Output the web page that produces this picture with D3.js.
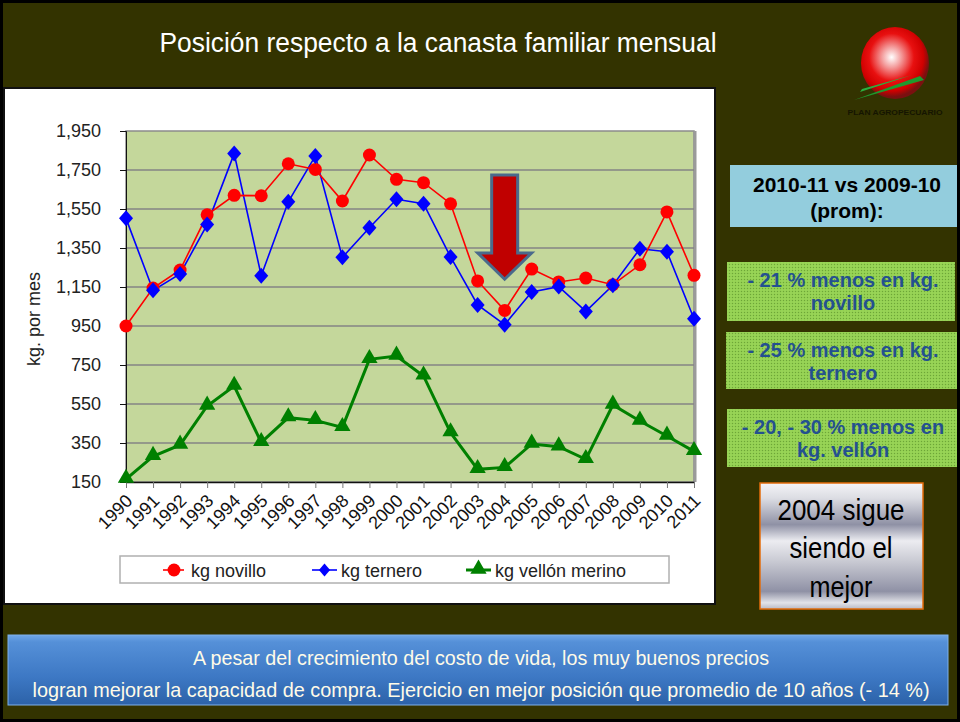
<!DOCTYPE html>
<html>
<head>
<meta charset="utf-8">
<script src="https://cdn.jsdelivr.net/npm/d3@7"></script>
<style>
  body { margin: 0; background: #333300; }
  svg { display: block; font-family: "Liberation Sans", Arial, sans-serif; }
  .narrow { font-family: "Liberation Sans Narrow", "Arial Narrow", "Liberation Sans", sans-serif; }
</style>
</head>
<body>
<div id="chart"></div>
<script>
// Chart values
const years = ["1990","1991","1992","1993","1994","1995","1996","1997","1998","1999","2000",
  "2001","2002","2003","2004","2005","2006","2007","2008","2009","2010","2011"];
const novillo = [950,1145,1237,1520,1620,1618,1782,1753,1591,1827,1702,
  1685,1577,1181,1030,1242,1176,1196,1162,1264,1535,1210];
const ternero = [1502,1133,1217,1470,1834,1208,1587,1822,1302,1454,1600,
  1577,1304,1058,957,1124,1152,1025,1159,1346,1331,987];
const vellon = [165,282,340,540,642,353,480,466,430,779,796,
  694,403,215,225,345,331,266,545,463,386,307];
const yTicks = [150,350,550,750,950,1150,1350,1550,1750,1950];
const seriesNames = ["kg novillo","kg ternero","kg vellón merino"];

const W = 960, H = 722;
const svg = d3.select("#chart").append("svg").attr("width", W).attr("height", H);
const defs = svg.append("defs");

// Slide background
svg.append("rect").attr("width", W).attr("height", H).attr("fill", "#333300");

// Title
svg.append("text").attr("class", "narrow")
  .attr("x", 438).attr("y", 52)
  .attr("text-anchor", "middle")
  .attr("fill", "#fff")
  .attr("font-size", 27)
  .attr("textLength", 557).attr("lengthAdjust", "spacingAndGlyphs")
  .text("Posición respecto a la canasta familiar mensual");

// Logo
const sphere = defs.append("radialGradient").attr("id", "sphere")
  .attr("cx", "45%").attr("cy", "42%").attr("r", "55%");
sphere.append("stop").attr("offset", "0%").attr("stop-color", "#ffffff");
sphere.append("stop").attr("offset", "25%").attr("stop-color", "#f4a0a0");
sphere.append("stop").attr("offset", "60%").attr("stop-color", "#e81010");
sphere.append("stop").attr("offset", "85%").attr("stop-color", "#d00000");
sphere.append("stop").attr("offset", "100%").attr("stop-color", "#7a1010");
svg.append("ellipse").attr("cx", 895).attr("cy", 63).attr("rx", 34).attr("ry", 36).attr("fill", "url(#sphere)");
svg.append("path").attr("d", "M854,100 L924,80 L920,76 Z").attr("fill", "#1f9a2e");
svg.append("path").attr("d", "M860,92 L912,75 L862,89 Z").attr("fill", "#2bb040");
svg.append("text").attr("x", 895).attr("y", 115).attr("text-anchor", "middle")
  .attr("font-size", 8).attr("font-weight", "bold").attr("fill", "#151500")
  .attr("textLength", 95).attr("lengthAdjust", "spacingAndGlyphs")
  .text("PLAN AGROPECUARIO");

// Chart panel
svg.append("rect").attr("x", 4).attr("y", 88).attr("width", 711).attr("height", 516)
  .attr("fill", "#fff").attr("stroke", "#111").attr("stroke-width", 2);

const x = d3.scalePoint().domain(years).range([126, 694]);
const y = d3.scaleLinear().domain([150, 1950]).range([482, 131]);

// Plot area
svg.append("rect").attr("x", 126).attr("y", 131).attr("width", 568).attr("height", 351)
  .attr("fill", "#c4d79b").attr("stroke", "#8c8c8c").attr("stroke-width", 1.5);
svg.append("line").attr("x1", 695).attr("x2", 695).attr("y1", 131).attr("y2", 482)
  .attr("stroke", "#9a9a9a").attr("stroke-width", 3);

// Gridlines
svg.append("g").selectAll("line").data(yTicks.slice(1, -1)).join("line")
  .attr("x1", 126).attr("x2", 694)
  .attr("y1", d => y(d)).attr("y2", d => y(d))
  .attr("stroke", "#858585").attr("stroke-width", 1.5);

// Axes
const yAxis = svg.append("g").attr("transform", "translate(126,0)")
  .call(d3.axisLeft(y).tickValues(yTicks).tickFormat(d3.format(",")).tickSize(6).tickPadding(19));
yAxis.selectAll("text").attr("font-size", 18).attr("fill", "#222").attr("font-family", "Liberation Sans, Arial, sans-serif");
yAxis.selectAll("line, path").attr("stroke", "#111");

const xAxis = svg.append("g").attr("transform", "translate(0,482)")
  .call(d3.axisBottom(x).tickSize(6).tickSizeOuter(0));
xAxis.select(".domain").attr("stroke", "#111").attr("stroke-width", 1.5);
xAxis.selectAll("line").attr("stroke", "#777");
xAxis.selectAll("text")
  .attr("font-size", 18).attr("fill", "#111").attr("font-family", "Liberation Sans, Arial, sans-serif")
  .attr("text-anchor", "end")
  .attr("dy", 0).attr("y", 0)
  .attr("transform", "translate(7,20) rotate(-45)");

// Y title
svg.append("text").attr("transform", "translate(40,319) rotate(-90)")
  .attr("text-anchor", "middle").attr("font-size", 18).attr("fill", "#222")
  .text("kg. por mes");

// Lines
const line = d3.line().x((d, i) => x(years[i])).y(d => y(d));
svg.append("path").datum(vellon).attr("d", line)
  .attr("fill", "none").attr("stroke", "#008000").attr("stroke-width", 3);
svg.append("path").datum(ternero).attr("d", line)
  .attr("fill", "none").attr("stroke", "#0000ff").attr("stroke-width", 1.6);
svg.append("path").datum(novillo).attr("d", line)
  .attr("fill", "none").attr("stroke", "#ff0000").attr("stroke-width", 1.6);

// Markers
const triangle = d3.symbol().type(d3.symbolTriangle).size(115);
const diamond = "M0,-8 L7,0 L0,8 L-7,0 Z";
svg.append("g").selectAll("path").data(vellon).join("path")
  .attr("d", triangle)
  .attr("transform", (d, i) => `translate(${x(years[i])},${y(d) - 1})`)
  .attr("fill", "#008000");
svg.append("g").selectAll("circle").data(novillo).join("circle")
  .attr("cx", (d, i) => x(years[i])).attr("cy", d => y(d)).attr("r", 6.5)
  .attr("fill", "#ff0000");
svg.append("g").selectAll("path").data(ternero).join("path")
  .attr("d", diamond)
  .attr("transform", (d, i) => `translate(${x(years[i])},${y(d)})`)
  .attr("fill", "#0000ff");

// Down arrow over 2004
const ax = x("2004");
const arrowTop = y(1725), headTop = y(1325), tip = y(1190);
svg.append("path")
  .attr("d", `M${ax - 13},${arrowTop} L${ax + 13},${arrowTop} L${ax + 13},${headTop} L${ax + 27},${headTop}
    L${ax},${tip} L${ax - 27},${headTop} L${ax - 13},${headTop} Z`)
  .attr("fill", "#c00000").attr("stroke", "#4a6a8c").attr("stroke-width", 3)
  .attr("stroke-linejoin", "miter");

// Legend
svg.append("rect").attr("x", 120).attr("y", 556).attr("width", 549).attr("height", 27)
  .attr("fill", "#fff").attr("stroke", "#b0b0b0").attr("stroke-width", 1.5);
const legendX = [163, 312, 466];
const colors = ["#ff0000", "#0000ff", "#008000"];
const lg = svg.append("g").selectAll("g").data(seriesNames).join("g")
  .attr("transform", (d, i) => `translate(${legendX[i]},570)`);
lg.append("line").attr("x1", 0).attr("x2", (d, i) => i === 0 ? 21 : 25)
  .attr("stroke", (d, i) => colors[i]).attr("stroke-width", (d, i) => i === 2 ? 3 : 1.6);
lg.append("path")
  .attr("d", (d, i) => i === 0 ? d3.symbol().type(d3.symbolCircle).size(130)() : i === 1 ? diamond : triangle())
  .attr("transform", (d, i) => `translate(${i === 0 ? 11 : 12.5},${i === 2 ? -1 : 0})${i === 1 ? " scale(0.8)" : ""}`)
  .attr("fill", (d, i) => colors[i]);
lg.append("text").attr("x", (d, i) => i === 0 ? 28 : 29).attr("y", 6.5)
  .attr("font-size", 18).attr("fill", "#222").text(d => d);

// Right-hand boxes
svg.append("rect").attr("x", 730).attr("y", 165).attr("width", 232).attr("height", 62).attr("fill", "#93cddd");
svg.append("text").attr("x", 847).attr("y", 192).attr("text-anchor", "middle")
  .attr("font-size", 21).attr("font-weight", "bold").attr("fill", "#000").text("2010-11 vs 2009-10");
svg.append("text").attr("x", 847).attr("y", 218).attr("text-anchor", "middle")
  .attr("font-size", 21).attr("font-weight", "bold").attr("fill", "#000").text("(prom):");

const pat = defs.append("pattern").attr("id", "dots").attr("width", 3).attr("height", 3)
  .attr("patternUnits", "userSpaceOnUse");
pat.append("rect").attr("width", 3).attr("height", 3).attr("fill", "#92d050");
pat.append("rect").attr("x", 0).attr("y", 0).attr("width", 1).attr("height", 1).attr("fill", "#6ea33a");
pat.append("rect").attr("x", 1.5).attr("y", 1.5).attr("width", 1).attr("height", 1).attr("fill", "#a9dc6c");

const greenBoxes = [
  { x: 727, y: 262, w: 228, h: 59, lines: ["- 21 % menos en kg.", "novillo"] },
  { x: 726, y: 332, w: 236, h: 57, lines: ["- 25 % menos en kg.", "ternero"] },
  { x: 727, y: 409, w: 235, h: 58, lines: ["- 20, - 30 % menos en", "kg. vellón"] }
];
const gb = svg.append("g").selectAll("g").data(greenBoxes).join("g");
gb.append("rect").attr("x", d => d.x).attr("y", d => d.y).attr("width", d => d.w).attr("height", d => d.h)
  .attr("fill", "url(#dots)");
gb.each(function (d) {
  d3.select(this).selectAll("text").data(d.lines).join("text")
    .attr("x", 843).attr("y", (t, i) => d.y + 25 + i * 23)
    .attr("text-anchor", "middle").attr("font-size", 20).attr("font-weight", "bold")
    .attr("fill", "#24518f").text(t => t);
});

// Silver box
const silver = defs.append("linearGradient").attr("id", "silver").attr("x1", 0).attr("y1", 0).attr("x2", 0).attr("y2", 1);
[[0, "#f4f4f7"], [0.12, "#dcdde3"], [0.33, "#8f91a5"], [0.46, "#ececf1"], [0.62, "#c9cad3"],
  [0.86, "#8f91a5"], [0.95, "#e2e3e8"], [1, "#b8b9c3"]]
  .forEach(([o, c]) => silver.append("stop").attr("offset", o).attr("stop-color", c));
svg.append("rect").attr("x", 760).attr("y", 483).attr("width", 163).attr("height", 126)
  .attr("fill", "url(#silver)").attr("stroke", "#e36c0a").attr("stroke-width", 1.5);
const silverLines = [["2004 sigue", 520, 127], ["siendo el", 558, 103], ["mejor", 597, 63]];
svg.append("g").selectAll("text").data(silverLines).join("text").attr("class", "narrow")
  .attr("x", 841).attr("y", d => d[1]).attr("text-anchor", "middle")
  .attr("font-size", 30).attr("fill", "#000")
  .attr("textLength", d => d[2]).attr("lengthAdjust", "spacingAndGlyphs")
  .text(d => d[0]);

// Bottom banner
const blue = defs.append("linearGradient").attr("id", "blue").attr("x1", 0).attr("y1", 0).attr("x2", 0).attr("y2", 1);
[[0, "#6fa6e6"], [0.1, "#5590d8"], [0.6, "#3d78c4"], [1, "#2c62a8"]]
  .forEach(([o, c]) => blue.append("stop").attr("offset", o).attr("stop-color", c));
svg.append("rect").attr("x", 8).attr("y", 635).attr("width", 940).attr("height", 70)
  .attr("fill", "url(#blue)").attr("stroke", "#7fb0ea").attr("stroke-width", 1);
const bannerLines = [
  ["A pesar del crecimiento del costo de vida, los muy buenos precios", 665, 576],
  ["logran mejorar la capacidad de compra. Ejercicio en mejor posición que promedio de 10 años (- 14 %)", 697, 897]
];
// Narrow, tall lettering: small font stretched vertically
svg.append("g").selectAll("text").data(bannerLines).join("text").attr("class", "narrow")
  .attr("transform", d => `translate(481,${d[1]}) scale(1,1.15)`)
  .attr("text-anchor", "middle")
  .attr("font-size", 18).attr("fill", "#fffbe8")
  .attr("textLength", d => d[2]).attr("lengthAdjust", "spacingAndGlyphs")
  .text(d => d[0]);

// Slide border
svg.append("rect").attr("x", 1.5).attr("y", 1.5).attr("width", W - 3).attr("height", H - 3)
  .attr("fill", "none").attr("stroke", "#000").attr("stroke-width", 3);
</script>
</body>
</html>
